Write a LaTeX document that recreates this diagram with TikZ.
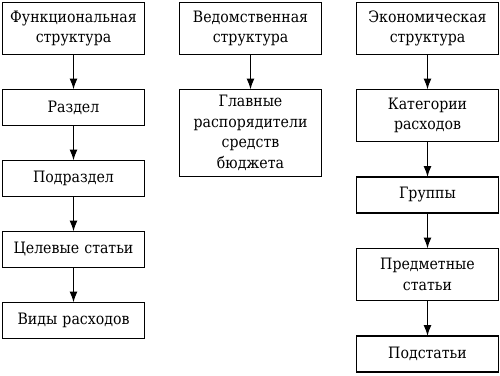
\documentclass[tikz,border=0pt]{standalone}
\usepackage{fontspec}
\setmainfont{DejaVu Serif Condensed}
\usetikzlibrary{arrows.meta,positioning}
\tikzset{
  box/.style={draw, line width=1.3pt, outer sep=0pt, align=center, text width=136pt, minimum width=142pt, minimum height=36pt, inner xsep=3pt, inner ysep=4.5pt, font=\fontsize{15.7}{20.5}\selectfont},
  twobox/.style={box, minimum height=52pt},
  arrow/.style={-{Latex[length=11pt,width=8pt]}, line width=1.3pt}
}

\begin{document}
\begin{tikzpicture}[node distance=35pt]
  \useasboundingbox (0,0) rectangle (500pt,-375pt);
  % top row
  \node[twobox, anchor=north west] (func) at (2.5pt,-2.5pt) {Функциональная\\структура};
  \node[twobox, right=35pt of func] (dept) {Ведомственная\\структура};
  \node[twobox, right=35pt of dept] (econ) {Экономическая\\структура};

  % functional column
  \node[box, below=of func] (razdel) {Раздел};
  \node[box, below=of razdel] (podrazdel) {Подраздел};
  \node[box, below=of podrazdel] (celevye) {Целевые статьи};
  \node[box, below=of celevye] (vidy) {Виды расходов};

  % departmental column
  \node[box, below=of dept, minimum height=87pt] (glavnye) {Главные\\распорядители\\средств\\бюджета};

  % economic column
  \node[twobox, below=of econ] (kategorii) {Категории\\расходов};
  \node[box, below=35.5pt of kategorii] (gruppy) {Группы};
  \node[twobox, below=35.5pt of gruppy] (predmet) {Предметные\\статьи};
  \node[box, below=35.5pt of predmet] (podstat) {Подстатьи};

  \foreach \a/\b in {func/razdel,razdel/podrazdel,podrazdel/celevye,celevye/vidy,dept/glavnye,econ/kategorii,kategorii/gruppy,gruppy/predmet,predmet/podstat}
    \draw[arrow] (\a) -- (\b);
\end{tikzpicture}
\end{document}
